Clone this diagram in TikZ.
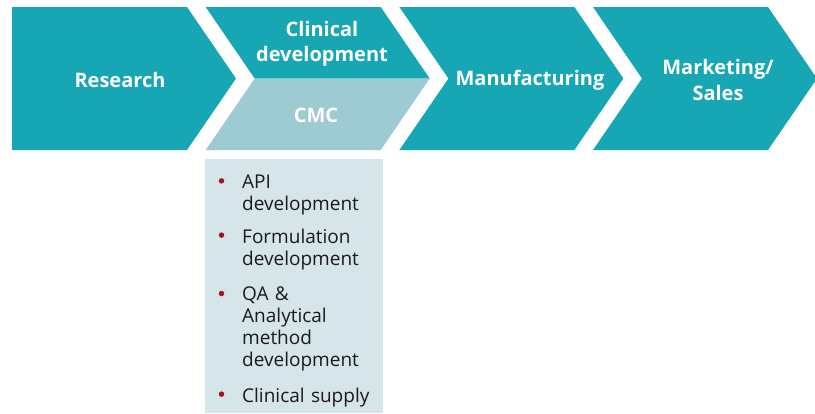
\documentclass[tikz,border=0pt]{standalone}
\usepackage{fontspec}
\setmainfont{Open Sans}
\usepackage{tikz}
\usepackage{xcolor}
\definecolor{chevteal}{RGB}{22,166,180}
\definecolor{cmclight}{RGB}{158,203,211}
\definecolor{listbg}{RGB}{213,229,234}
\definecolor{bulletred}{RGB}{160,20,30}
\definecolor{listtext}{RGB}{26,26,26}

\tikzset{
  stage/.style={text=white, font=\fontsize{20}{25.5}\selectfont\bfseries, align=center},
  item/.style={text=listtext, font=\fontsize{19}{22}\selectfont, align=left, anchor=north west, inner sep=0pt, text width=140pt},
  dot/.style={circle, fill=bulletred, inner sep=0pt, minimum size=5.5pt}
}

\begin{document}
\begin{tikzpicture}[x=1pt, y=-1pt]
					\useasboundingbox (0,0) rectangle (815,413);
					\coordinate (R) at (12,7);
					\coordinate (C) at (205.7,7);
					\coordinate (M) at (399.4,7);
					\coordinate (S) at (593,7);
					% first arrow has a flat back, the others are notched
					\fill[chevteal, shift={(R)}] (0,0) -- (175,0) -- (224,71.5) -- (175,143) -- (0,143) -- cycle;
					\fill[chevteal, shift={(C)}] (0,0) -- (175,0) -- (224,71.5) -- (49,71.5) -- cycle;
					\fill[cmclight, shift={(C)}] (49,71.5) -- (224,71.5) -- (175,143) -- (0,143) -- cycle;
					\fill[chevteal, shift={(M)}] (0,0) -- (175,0) -- (224,71.5) -- (175,143) -- (0,143) -- (49,71.5) -- cycle;
					\fill[chevteal, shift={(S)}] (0,0) -- (175,0) -- (224,71.5) -- (175,143) -- (0,143) -- (49,71.5) -- cycle;
					\node[stage] (research) at (120,80) {Research};
					\node[stage] (clinical) at (322,44) {Clinical\\development};
					\node[stage] (cmc) at (316,115) {CMC};
					\node[stage] (manuf) at (530,80) {Manufacturing};
					\node[stage] (market) at (718,80) {Marketing/\\Sales};
					% CMC task list below the split arrow
					\fill[listbg] (205,159) rectangle (383,413);
					\node[item] (api) at (242,174.4) {API\\development};
					\node[item] (form) at (242,228.6) {Formulation\\development};
					\node[item] (qa) at (242,287) {QA \&\\Analytical\\method\\development};
					\node[item] (supply) at (242,387.6) {Clinical supply};
					\foreach \n in {api,form,qa,supply}
						\node[dot] at ([xshift=-20.5pt, yshift=-6.5pt]\n.north west) {};
				\end{tikzpicture}
\end{document}
